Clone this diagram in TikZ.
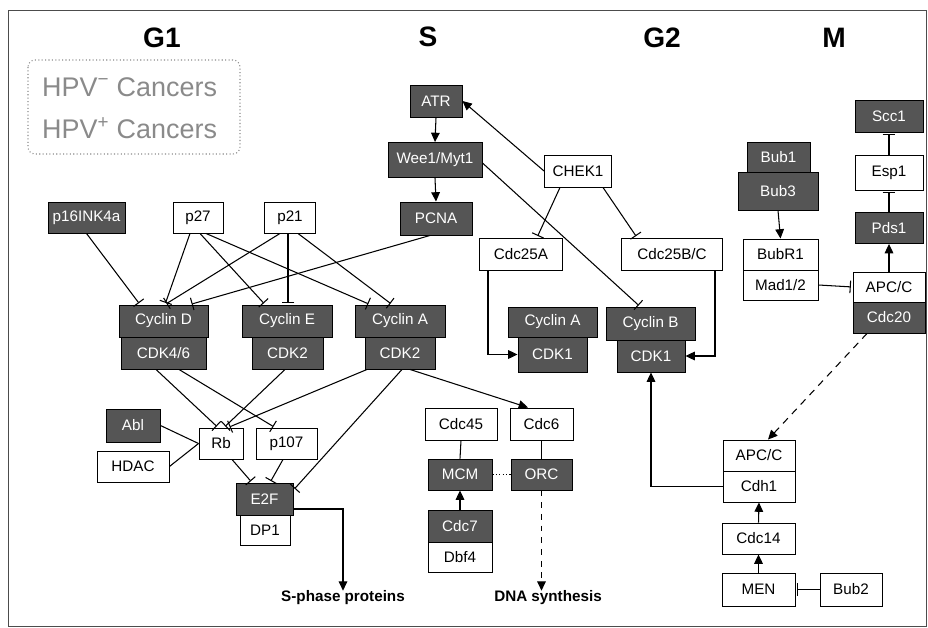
\documentclass[tikz,border=0pt]{standalone}
\usepackage{fontspec}
\setmainfont{Liberation Sans}
\usetikzlibrary{arrows.meta}
\definecolor{box-dark}{HTML}{555555}
\definecolor{legend-gray}{HTML}{8A8A8A}

\begin{document}
\begin{tikzpicture}[x=0.03cm, y=-0.03cm,
        every node/.style={font=\fontsize{13}{15}\selectfont, inner sep=0pt},
        wbox/.style={draw=black, line width=0.8pt, fill=white, minimum height=0.95cm},
        dbox/.style={draw=black, line width=0.8pt, fill=box-dark, text=white, minimum height=0.95cm},
        phase/.style={font=\fontsize{24}{28}\selectfont\bfseries},
        endlabel/.style={font=\fontsize{13}{15}\selectfont\bfseries},
        act/.style={-{Triangle[length=2.8mm, width=2.6mm]}, line width=0.9pt},
        inh/.style={-{Bar[width=3.8mm]}, line width=0.9pt, shorten >=1.5pt}]
      \useasboundingbox (0,0) rectangle (928,628);
      \draw[line width=0.6pt, black!70] (8,10) rectangle (926,626);
      % phases
      \node[phase] (G1) at (162,38) {G1};
      \node[phase] (S) at (428,37) {S};
      \node[phase] (G2) at (662,38) {G2};
      \node[phase] (M) at (834,38) {M};
      % legend
      \draw[legend-gray, dotted, line width=0.9pt, rounded corners=6pt] (28,60) rectangle (240,154);
      \node[font=\fontsize{23}{27}\selectfont, text=legend-gray, anchor=west] (HPVneg) at (42,87) {HPV\textsuperscript{−} Cancers};
      \node[font=\fontsize{23}{27}\selectfont, text=legend-gray, anchor=west] (HPVpos) at (42,128) {HPV\textsuperscript{+} Cancers};

      % G1
      \node[dbox, minimum width=2.31cm, minimum height=0.93cm] (P16) at (86.5,217.5) {p16INK4a};
      \node[wbox, minimum width=1.5cm, minimum height=0.93cm] (P27) at (198,217.5) {p27};
      \node[wbox, minimum width=1.53cm, minimum height=0.93cm] (P21) at (290,217.5) {p21};
      \node[dbox, minimum width=2.67cm, minimum height=0.96cm] (CYCD) at (163.5,321) {Cyclin D};
      \node[dbox, minimum width=2.55cm, minimum height=0.96cm] (CDK46) at (163.5,353) {CDK4/6};
      \node[dbox, minimum width=2.7cm, minimum height=0.96cm] (CYCE) at (287,321) {Cyclin E};
      \node[dbox, minimum width=2.13cm, minimum height=0.96cm] (CDK2E) at (287.5,353) {CDK2};
      \node[dbox, minimum width=2.7cm, minimum height=0.96cm] (CYCA) at (400,321) {Cyclin A};
      \node[dbox, minimum width=2.1cm, minimum height=0.96cm] (CDK2A) at (400,353) {CDK2};
      \draw[inh] (P16.south) -- (CYCD.north -| 140,0);
      \draw[inh] (P27.south -| 190,0) -- (CYCD.north -| 165,0);
      \draw[inh] (P21.south -| 280,0) -- (CYCD.north -| 165,0);
      \draw[inh] (P27.south -| 200,0) -- (CYCE.north -| 265,0);
      \draw[inh] (P27.south -| 206,0) -- (CYCA.north -| 370,0);
      \draw[inh] (P21.south -| 288,0) -- (CYCE.north -| 288,0);
      \draw[inh] (P21.south -| 298,0) -- (CYCA.north -| 392,0);

      \node[dbox, minimum width=1.62cm, minimum height=0.99cm] (ABL) at (133,425.5) {Abl};
      \node[wbox, minimum width=2.16cm, minimum height=0.93cm] (HDAC) at (133,466.5) {HDAC};
      \node[wbox, minimum width=1.32cm, minimum height=0.93cm] (RB) at (221,443.5) {Rb};
      \node[wbox, minimum width=1.83cm, minimum height=0.93cm] (P107) at (286.5,443.5) {p107};
      \node[dbox, minimum width=1.71cm, minimum height=0.96cm] (E2F) at (264.5,499) {E2F};
      \node[wbox, minimum width=1.5cm, minimum height=0.9cm] (DP1) at (265,530) {DP1};
      \draw[line width=0.9pt] (ABL.east) -- (RB.west);
      \draw[line width=0.9pt] (HDAC.east) -- (RB.west);
      \draw[inh] (CDK46.south -| 156,0) -- (RB.north -| 218,0);
      \draw[inh] (CDK46.south -| 179,0) -- (P107.north -| 275,0);
      \draw[inh] (CDK2E.south -| 285,0) -- (RB.north -| 224,0);
      \draw[inh] (CDK2A.south -| 367,0) -- (RB.north -| 228,0);
      \draw[inh] (CDK2A.south -| 402,0) -- (E2F.east |- 0,490);
      \draw[inh] (RB.south -| 232,0) -- (E2F.north -| 252,0);
      \draw[inh] (P107.south -| 283,0) -- (E2F.north -| 270,0);
      \node[endlabel] (SPROT) at (343,598) {S-phase proteins};
      \draw[act] (E2F.east |- 0,509) -| (SPROT.north);

      % S
      \node[dbox, minimum width=1.56cm, minimum height=0.96cm] (ATR) at (436,101) {ATR};
      \node[dbox, minimum width=2.82cm, minimum height=1.05cm] (WEE) at (435,160) {Wee1/Myt1};
      \node[dbox, minimum width=2.16cm, minimum height=0.99cm] (PCNA) at (436,218.5) {PCNA};
      \node[wbox, minimum width=2.01cm, minimum height=0.96cm] (CHEK) at (578,171) {CHEK1};
      \draw[act] (ATR.south) -- (WEE.north);
      \draw[act] (WEE.south) -- (PCNA.north);
      \draw[act] (CHEK.west) -- (ATR.east);
      \draw[inh] (PCNA.south -| 430,0) -- (CYCD.north -| 190,0);

      \node[wbox, minimum width=2.16cm, minimum height=0.96cm] (CDC45) at (461,424) {Cdc45};
      \node[wbox, minimum width=1.89cm, minimum height=0.96cm] (CDC6) at (541.5,424) {Cdc6};
      \node[dbox, minimum width=1.92cm, minimum height=0.93cm] (MCM) at (460,474.5) {MCM};
      \node[dbox, minimum width=1.83cm, minimum height=0.93cm] (ORC) at (541.5,474.5) {ORC};
      \node[dbox, minimum width=1.92cm, minimum height=0.96cm] (CDC7) at (460,526) {Cdc7};
      \node[wbox, minimum width=1.92cm, minimum height=0.9cm] (DBF4) at (460,557) {Dbf4};
      \draw[line width=0.9pt] (CDC45.south) -- (MCM.north);
      \draw[line width=0.9pt] (CDC6.south) -- (ORC.north);
      \draw[line width=0.9pt, dotted] (MCM.east) -- (ORC.west);
      \draw[act] (CDC7.north) -- (MCM.south);
      \draw[act] (CDK2A.south -| 410,0) -- (CDC6.north -| 528,0);
      \node[endlabel] (DNASYN) at (548,598) {DNA synthesis};
      \draw[act, dashed, dash pattern=on 5pt off 5pt] (ORC.south) -- (DNASYN.north -| ORC.south);

      % G2
      \node[wbox, minimum width=2.49cm, minimum height=0.96cm] (C25A) at (521,254) {Cdc25A};
      \node[wbox, minimum width=3.03cm, minimum height=0.96cm] (C25BC) at (672,254) {Cdc25B/C};
      \node[dbox, minimum width=2.67cm, minimum height=0.9cm] (CYCAG) at (552.5,322) {Cyclin A};
      \node[dbox, minimum width=2.07cm, minimum height=1.05cm] (CDK1A) at (552.5,354.5) {CDK1};
      \node[dbox, minimum width=2.67cm, minimum height=0.99cm] (CYCB) at (650.5,323.5) {Cyclin B};
      \node[dbox, minimum width=2.04cm, minimum height=0.96cm] (CDK1B) at (651,356) {CDK1};
      \draw[inh] (CHEK.south -| 560,0) -- (C25A.north -| 537,0);
      \draw[inh] (CHEK.south -| 603,0) -- (C25BC.north -| 637,0);
      \draw[inh] (WEE.east |- 0,163) -- (CYCB.north -| 640,0);
      \draw[act] (C25A.south -| 488,0) |- (CDK1A.west);
      \draw[act] (C25BC.south -| 715,0) |- (CDK1B.east);

      % M
      \node[dbox, minimum width=1.89cm, minimum height=0.9cm] (BUB1) at (778.5,157) {Bub1};
      \node[dbox, minimum width=2.4cm, minimum height=1.14cm] (BUB3) at (778,191) {Bub3};
      \node[wbox, minimum width=2.25cm, minimum height=0.93cm] (BUBR1) at (780.5,254.5) {BubR1};
      \node[wbox, minimum width=2.25cm, minimum height=0.9cm] (MAD) at (780.5,285) {Mad1/2};
      \node[dbox, minimum width=2.04cm, minimum height=0.96cm] (SCC) at (889,116) {Scc1};
      \node[wbox, minimum width=2.04cm, minimum height=1.05cm] (ESP) at (889,172.5) {Esp1};
      \node[dbox, minimum width=2.04cm, minimum height=0.93cm] (PDS) at (889,228) {Pds1};
      \node[wbox, minimum width=2.16cm, minimum height=0.9cm] (APCM) at (889,287) {APC/C};
      \node[dbox, minimum width=2.16cm, minimum height=0.93cm] (CDC20) at (889,317.5) {Cdc20};
      \draw[act] (BUB3.south) -- (BUBR1.north);
      \draw[inh] (MAD.east) -- (APCM.west);
      \draw[act] (APCM.north) -- (PDS.south);
      \draw[inh] (PDS.north) -- (ESP.south);
      \draw[inh] (ESP.north) -- (SCC.south);

      \node[wbox, minimum width=2.16cm, minimum height=0.93cm] (APCL) at (759,455.5) {APC/C};
      \node[wbox, minimum width=2.16cm, minimum height=0.93cm] (CDH1) at (759,486.5) {Cdh1};
      \node[wbox, minimum width=2.19cm, minimum height=0.93cm] (CDC14) at (758.5,538.5) {Cdc14};
      \node[wbox, minimum width=2.19cm, minimum height=0.99cm] (MEN) at (758.5,589.5) {MEN};
      \node[wbox, minimum width=1.86cm, minimum height=0.99cm] (BUB2) at (851,589.5) {Bub2};
      \draw[act, dashed, dash pattern=on 6pt off 5pt] (CDC20.south -| 867,0) -- (APCL.north -| 768,0);
      \draw[act] (CDH1.west) -| (CDK1B.south);
      \draw[act] (CDC14.north) -- (CDH1.south);
      \draw[act] (MEN.north) -- (CDC14.south);
      \draw[inh] (BUB2.west) -- (MEN.east);
    \end{tikzpicture}
\end{document}
